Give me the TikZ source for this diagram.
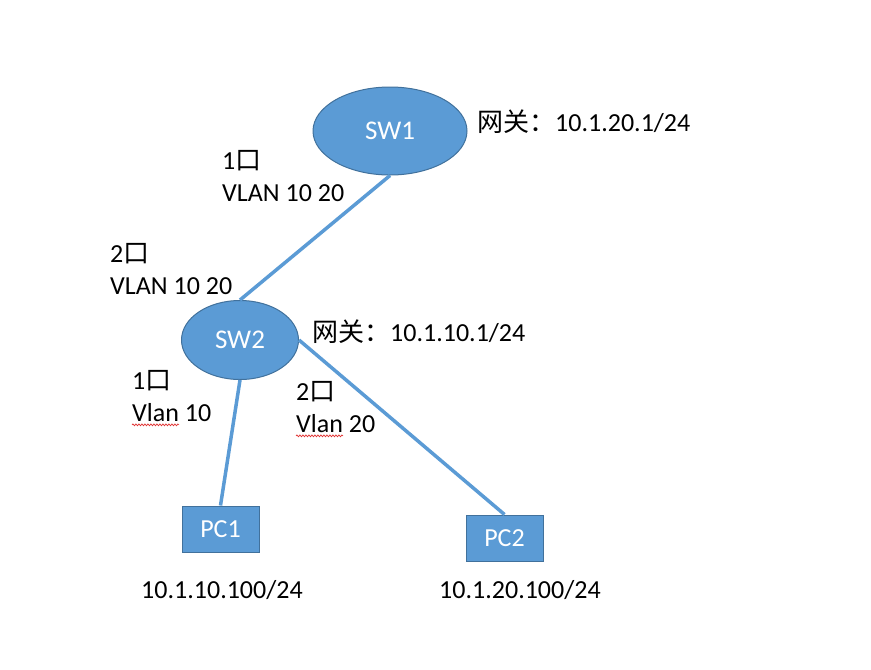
\documentclass[tikz,border=0pt]{standalone}
\usepackage{fontspec}
\setmainfont{Carlito}
\newfontfamily\cjk{Noto Sans CJK SC}
\usepackage{tikz}
\usetikzlibrary{
  shapes.geometric,
  positioning,
  calc,
  decorations.pathmorphing
}
\definecolor{nwFill}{HTML}{5B9BD5}
\definecolor{nwEdge}{HTML}{41719C}
\definecolor{nwSpell}{HTML}{E03030}
\tikzset{
  nwtext/.style={font=\fontsize{26}{32}\selectfont, text=black},
  swnode/.style={
    draw=nwEdge, fill=nwFill, ellipse, inner sep=0pt, line width=1pt,
    font=\fontsize{27}{30}\selectfont, text=white
  },
  pcnode/.style={
    draw=nwEdge, fill=nwFill, rectangle, inner sep=0pt, line width=1pt,
    minimum width=77pt, minimum height=46pt,
    font=\fontsize{26}{30}\selectfont, text=white
  },
  portlbl/.style={nwtext, anchor=west, align=left, inner sep=0pt},
  iplbl/.style={nwtext, inner sep=0pt},
  link/.style={nwFill, line width=3.5pt},
  spell/.style={nwSpell, line width=0.7pt, decorate,
    decoration={snake, amplitude=0.9pt, segment length=3pt}}
}

\begin{document}
\begin{tikzpicture}[x=1pt, y=-1pt]
  \useasboundingbox (0,0) rectangle (871,670);
  \node[swnode, minimum width=154pt, minimum height=88pt] (sw1) at (390,131) {SW1};
  \node[swnode, minimum width=117pt, minimum height=79pt] (sw2) at (240,340) {SW2};
  \node[pcnode] (pc1) at (220.5,529) {PC1};
  \node[pcnode] (pc2) at (504.5,538) {PC2};
  \draw[link] (sw1.south) -- (sw2.north);
  \draw[link] (sw2.south) -- (pc1.north);
  \draw[link] (sw2.east) -- (pc2.north);
  \node[portlbl] (gw1) at (477,122) {{\cjk 网关：}10.1.20.1/24};
  \node[portlbl] (gw2) at (312,332) {{\cjk 网关：}10.1.10.1/24};
  \node[portlbl] (sw1p) at (222,176) {1{\cjk 口}\\VLAN 10 20};
  \node[portlbl] (sw2up) at (110,269) {2{\cjk 口}\\VLAN 10 20};
  \node[portlbl] (sw2p1) at (132,396) {1{\cjk 口}\\Vlan 10};
  \node[portlbl] (sw2p2) at (296,407) {2{\cjk 口}\\Vlan 20};
  \node[iplbl] (ip1) at (222,590) {10.1.10.100/24};
  \node[iplbl] (ip2) at (520,590) {10.1.20.100/24};
  \draw[spell] ($(sw2p1.south west)+(0,3)$) -- ++(47,0);
  \draw[spell] ($(sw2p2.south west)+(0,3)$) -- ++(47,0);
\end{tikzpicture}
\end{document}
